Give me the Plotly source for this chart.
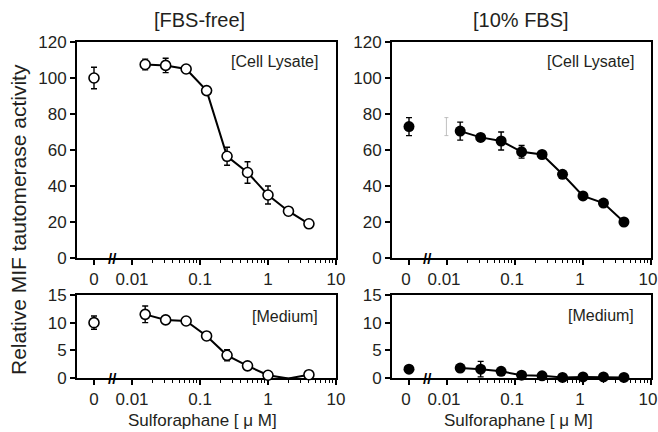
import plotly.graph_objects as go

# ---------------- data ----------------
conc = [0.015625, 0.03125, 0.0625, 0.125, 0.25, 0.5, 1, 2, 4]  # Sulforaphane [uM]

# FBS-free, cell lysate
free_lys_ctrl, free_lys_ctrl_err = 100.0, 6.0
free_lys = [107.5, 107.0, 105.0, 93.0, 56.5, 47.5, 35.0, 26.0, 19.0]
free_lys_err = [3.0, 4.0, 2.0, 0.0, 5.0, 6.0, 5.0, 1.0, 0.0]

# 10% FBS, cell lysate
fbs_lys_ctrl, fbs_lys_ctrl_err = 73.0, 5.0
fbs_lys = [70.5, 67.0, 65.0, 59.0, 57.5, 46.5, 34.5, 30.5, 20.0]
fbs_lys_err = [5.0, 1.0, 5.0, 3.5, 0.0, 1.5, 0.0, 0.0, 0.0]
fbs_ghost_y, fbs_ghost_err = 73.0, 5.0  # faint stray error bar at 0.01

# FBS-free, medium
free_med_ctrl, free_med_ctrl_err = 10.0, 1.2
free_med = [11.5, 10.5, 10.3, 7.6, 4.1, 2.2, 0.5, -0.1, 0.6]
free_med_err = [1.5, 0.0, 0.0, 0.0, 1.0, 0.0, 0.0, 0.0, 0.0]

# 10% FBS, medium
fbs_med_ctrl, fbs_med_ctrl_err = 1.6, 0.0
fbs_med = [1.8, 1.6, 1.2, 0.5, 0.4, 0.1, 0.2, 0.2, 0.1]
fbs_med_err = [0.0, 1.4, 0.0, 0.0, 0.0, 0.0, 0.0, 0.0, 0.0]

x_ticktext = ["0", "0.01", "0.1", "1", "10"]
x_major = [0.01, 0.1, 1, 10]
x_minor = [0.02, 0.03, 0.04, 0.05, 0.06, 0.07, 0.08, 0.09,
           0.2, 0.3, 0.4, 0.5, 0.6, 0.7, 0.8, 0.9,
           2, 3, 4, 5, 6, 7, 8, 9]
top_ticks = [0, 20, 40, 60, 80, 100, 120]
bot_ticks = [0, 5, 10, 15]

# ---------------- style / layout constants ----------------
W, H = 658, 432
ZERO_POS = 10 ** -2.559     # position of the "0" dose on the broken log axis
BREAK_POS = -2.29           # log10 position of the // break symbol
XRANGE = [-2.809, 1.0]
FONT = "Arial, Liberation Sans, Helvetica, sans-serif"
TXT = "#231f20"

def px_x(p):
    return p / W

def px_y(p):
    return 1 - p / H

fig = go.Figure()

panels = [
    ("x", "y", free_lys_ctrl, free_lys_ctrl_err, free_lys, free_lys_err, False),
    ("x2", "y2", fbs_lys_ctrl, fbs_lys_ctrl_err, fbs_lys, fbs_lys_err, True),
    ("x3", "y3", free_med_ctrl, free_med_ctrl_err, free_med, free_med_err, False),
    ("x4", "y4", fbs_med_ctrl, fbs_med_ctrl_err, fbs_med, fbs_med_err, True),
]

for xa, ya, c, ce, v, e, filled in panels:
    if filled:
        mk = dict(size=11, color="black", line=dict(width=0, color="black"), symbol="circle")
    else:
        mk = dict(size=10, color="white", line=dict(width=1.6, color="black"), symbol="circle")
    eb_c = dict(type="data", array=[ce], visible=True, color="black", thickness=1.4, width=3)
    eb = dict(type="data", array=e, visible=True, color="black", thickness=1.4, width=3)
    fig.add_trace(go.Scatter(x=[ZERO_POS], y=[c], mode="markers", marker=mk,
                             error_y=eb_c, xaxis=xa, yaxis=ya, cliponaxis=False,
                             showlegend=False, hoverinfo="skip"))
    fig.add_trace(go.Scatter(x=conc, y=v, mode="lines+markers", marker=mk,
                             line=dict(color="black", width=2),
                             error_y=eb, xaxis=xa, yaxis=ya, cliponaxis=False,
                             showlegend=False, hoverinfo="skip"))

# faint stray error bar in the 10% FBS lysate panel
fig.add_trace(go.Scatter(x=[0.0098], y=[fbs_ghost_y], mode="markers",
                         marker=dict(size=1, opacity=0),
                         error_y=dict(type="data", array=[fbs_ghost_err], visible=True,
                                      color="#b0b0b0", thickness=0.8, width=2),
                         xaxis="x2", yaxis="y2", showlegend=False, hoverinfo="skip"))

dom_left = [px_x(77), px_x(336)]
dom_right = [px_x(392), px_x(651)]
dom_top = [px_y(258), px_y(42)]
dom_bot = [px_y(378), px_y(295)]

def xax(domain, anchor, shift=0):
    return dict(type="log", domain=domain, anchor=anchor, range=XRANGE, automargin=False,
                tickmode="array", tickvals=[ZERO_POS] + x_major, ticktext=x_ticktext,
                ticks="outside", ticklen=5, tickwidth=1.5, tickcolor="black",
                ticklabeloverflow="allow", ticklabelshift=shift,
                minor=dict(tickmode="array", tickvals=x_minor, ticks="outside",
                           ticklen=3, tickwidth=1.2, tickcolor="black", showgrid=False),
                showline=True, linecolor="black", linewidth=2, mirror=True,
                showgrid=False, zeroline=False, layer="below traces",
                tickfont=dict(family=FONT, size=17, color=TXT), fixedrange=True)

def yax(domain, anchor, rng, ticks):
    return dict(domain=domain, anchor=anchor, range=rng, tickmode="array", automargin=False,
                tickvals=ticks, ticks="outside", ticklen=5, tickwidth=1.5,
                tickcolor="black", showline=True, linecolor="black", linewidth=2,
                mirror=True, showgrid=False, zeroline=False, layer="below traces",
                tickfont=dict(family=FONT, size=17, color=TXT), fixedrange=True)

fig.update_layout(
    width=W, height=H, margin=dict(l=0, r=0, t=0, b=0, autoexpand=False),
    paper_bgcolor="white", plot_bgcolor="white", showlegend=False,
    xaxis=xax(dom_left, "y"), yaxis=yax(dom_top, "x", [0, 120], top_ticks),
    xaxis2=xax(dom_right, "y2", -3), yaxis2=yax(dom_top, "x2", [0, 120], top_ticks),
    xaxis3=xax(dom_left, "y3"), yaxis3=yax(dom_bot, "x3", [0, 15], bot_ticks),
    xaxis4=xax(dom_right, "y4", -3), yaxis4=yax(dom_bot, "x4", [0, 15], bot_ticks),
)

ann = []
def text(x, y, s, size, xanchor="center", angle=0):
    ann.append(dict(x=px_x(x), y=px_y(y), xref="paper", yref="paper", text=s,
                    showarrow=False, xanchor=xanchor, yanchor="middle", textangle=angle,
                    font=dict(family=FONT, size=size, color=TXT)))

text(199, 20, "[FBS-free]", 20)
text(521, 20, "[10% FBS]", 20)
text(320, 61, "[Cell Lysate]", 16, xanchor="right")
text(636, 61, "[Cell Lysate]", 16, xanchor="right")
text(320, 316, "[Medium]", 16, xanchor="right")
text(636, 315, "[Medium]", 16, xanchor="right")
text(18, 220, "Relative MIF tautomerase activity", 21, angle=-90)
text(202, 420, "Sulforaphane [ \u03bc M]", 17)
text(518, 420, "Sulforaphane [ \u03bc M]", 17)

# axis-break symbols
for xa, ya in [("x", "y"), ("x2", "y2"), ("x3", "y3"), ("x4", "y4")]:
    ann.append(dict(x=BREAK_POS, y=0, xref=xa, yref=ya, text="<b>//</b>", showarrow=False,
                    xanchor="center", yanchor="middle",
                    font=dict(family=FONT, size=15, color="black")))

fig.update_layout(annotations=ann)
fig.write_html("out.html", config={"displayModeBar": False},
               post_script="document.body.style.margin='0';document.body.style.overflow='hidden';")
